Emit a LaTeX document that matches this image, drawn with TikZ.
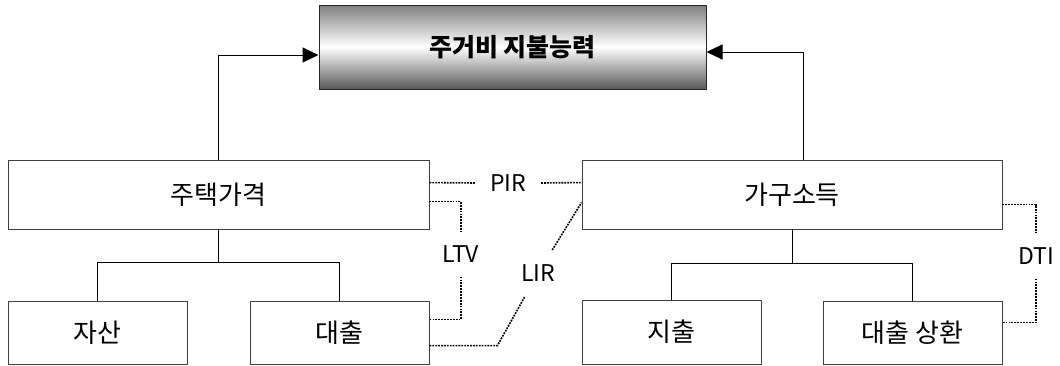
\documentclass[tikz,border=0pt]{standalone}
\usepackage{fontspec}
\setmainfont{Noto Sans CJK KR}
\usetikzlibrary{arrows.meta,calc}
\begin{document}
\begin{tikzpicture}[x=1pt,y=-1pt,
  box/.style={draw=black!75,line width=0.9pt,fill=white,inner sep=0pt,font=\fontsize{26}{28}\selectfont},
  topbox/.style={draw=black!85,line width=1pt,inner sep=0pt,top color=black!50,bottom color=black!65,middle color=white,font=\bfseries\fontsize{25}{28}\selectfont},
  tree/.style={draw=black,line width=0.9pt},
  arr/.style={draw=black,line width=1pt,-{Triangle[length=16pt,width=15pt]}},
  dots/.style={draw=black,line width=1.6pt,dash pattern=on 1.8pt off 1.1pt},
  lbl/.style={inner sep=0pt,font=\fontsize{23}{25}\selectfont}
]
\useasboundingbox (0,0) rectangle (1060,365);
\node[topbox,minimum width=387pt,minimum height=84pt] (top) at (512.5,47) {주거비 지불능력};
\node[box,minimum width=421pt,minimum height=69pt] (house) at (218.5,194.5) {주택가격};
\node[box,minimum width=420pt,minimum height=69pt] (income) at (792,194.5) {가구소득};
\node[box,minimum width=179pt,minimum height=63pt] (asset) at (97.5,332.5) {자산};
\node[box,minimum width=179pt,minimum height=63pt] (loan) at (339.5,332.5) {대출};
\node[box,minimum width=179pt,minimum height=64pt] (spend) at (671.5,332) {지출};
\node[box,minimum width=179pt,minimum height=63pt] (repay) at (912.5,332.5) {대출 상환};
% arrows
\draw[arr] (house.north) |- ($(top.west)+(0,8)$);
\draw[arr] ($(income.north)+(11,0)$) |- ($(top.east)+(0,5)$);
% trees
\coordinate (hj) at ($(house.south)+(0,33)$);
\draw[tree] (house.south) -- (hj);
\draw[tree] (asset.north) |- (hj) -| (loan.north);
\coordinate (ij) at ($(income.south)+(0,34)$);
\draw[tree] (income.south) -- (ij);
\draw[tree] (spend.north) |- (ij) -| (repay.north);
% labels
\node[lbl,inner xsep=15pt] (pir) at (508,183) {PIR};
\node[lbl,inner ysep=14pt] (ltv) at (461,254) {LTV};
\node[lbl] (lir) at (538,273) {LIR};
\node[lbl,inner ysep=14pt] (dti) at (1036,256) {DTI};
% dotted connectors
\draw[dots] ($(house.north east)+(0,23)$) -- (pir.west);
\draw[dots] (pir.east) -- ($(income.north west)+(0,23)$);
\draw[dots] ($(house.north east)+(0,42)$) -| (ltv.north);
\draw[dots] (ltv.south) |- ($(loan.north east)+(0,19)$);
\draw[dots,shorten >=27pt] ($(loan.north east)+(0,45)$) -- ++(68,0) -- (lir.center);
\draw[dots,shorten <=27pt] (lir.center) -- ($(income.north west)+(0,43)$);
\draw[dots] ($(income.north east)+(0,45)$) -| (dti.north);
\draw[dots] (dti.south) |- ($(repay.north east)+(0,22)$);
\end{tikzpicture}
\end{document}
